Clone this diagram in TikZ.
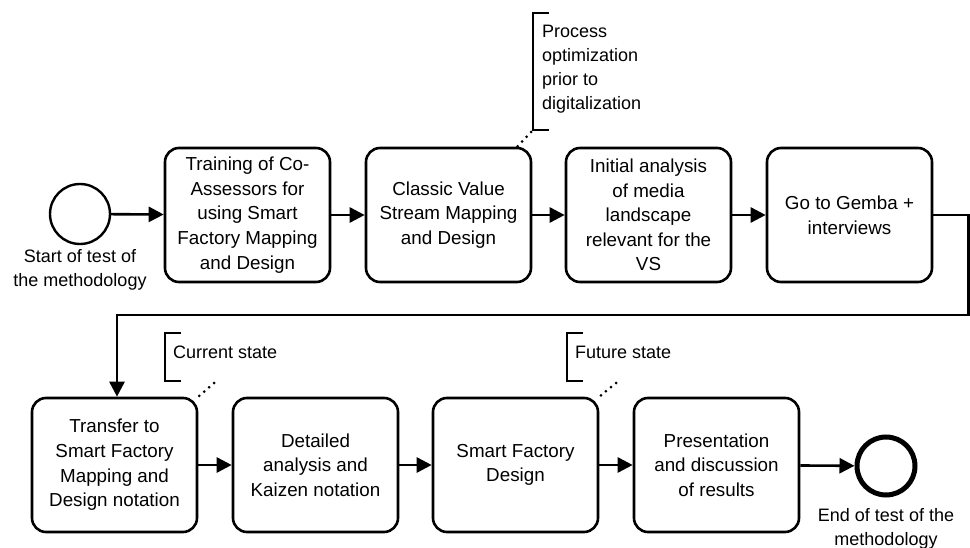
\documentclass[tikz,border=0pt]{standalone}
\usepackage{fontspec}
\setmainfont{Liberation Sans}
\usetikzlibrary{arrows.meta}

\tikzstyle{element}=[rectangle, draw, line width=2.6pt, rounded corners=14pt,
                     minimum width=165pt, minimum height=134pt, align=center,
                     inner sep=2pt, font=\fontsize{18.8}{24.6}\selectfont]
\tikzstyle{event}=[circle, draw, line width=2.4pt, minimum size=60pt, inner sep=0pt]
\tikzstyle{label}=[align=center, font=\fontsize{18}{24}\selectfont, inner sep=0pt]
\tikzstyle{flow}=[-{Triangle[length=15pt, width=15pt]}, line width=2.6pt]
\tikzstyle{assoc}=[line width=3pt, line cap=round, dash pattern=on 0pt off 6.5pt]
\tikzstyle{bracket}=[line width=2.6pt]

\begin{document}
\begin{tikzpicture}[x=1pt, y=-1pt]
  \useasboundingbox (0, 0) rectangle (970, 548);

  %%%%%%%%%%%%%%%%%%%%%%%%%%%%%%
  % nodes
  % upper row
  \node (start) at (80, 214) [event] {};
  \node (start_lab) at (80, 270) [label] {Start of test of\\the methodology};

  \node (train) at (247.5, 215) [element] {Training of Co-\\Assessors for\\using Smart\\Factory Mapping\\and Design};
  \node (vsm) at (448.5, 215) [element] {Classic Value\\Stream Mapping\\and Design};
  \node (media) at (648.5, 215) [element] {Initial analysis\\of media\\landscape\\relevant for the\\VS};
  \node (gemba) at (849.5, 215) [element] {Go to Gemba +\\interviews};

  % lower row
  \node (transfer) at (114.5, 465) [element] {Transfer to\\Smart Factory\\Mapping and\\Design notation};
  \node (kaizen) at (315.5, 465) [element] {Detailed\\analysis and\\Kaizen notation};
  \node (sfd) at (515.5, 465) [element] {Smart Factory\\Design};
  \node (pres) at (716.5, 465) [element] {Presentation\\and discussion\\of results};

  \node (end) at (886, 466) [event, line width=5pt, minimum size=58pt] {};
  \node (end_lab) at (886, 529) [label] {End of test of the\\methodology};

  %%%%%%%%%%%%%%%%%%%%%%%%%%%%%%
  % annotations
  \draw [bracket] (549, 13) -- (533, 13) -- (533, 130) -- (549, 130);
  \coordinate (ann_opt) at (531, 132);
  \node (opt_lab) at (542, 69) [label, anchor=west, align=left] {Process\\optimization\\prior to\\digitalization};

  \draw [bracket] (181, 333) -- (165, 333) -- (165, 381) -- (181, 381);
  \coordinate (ann_cur) at (214, 383);
  \node (cur_lab) at (173, 352) [label, anchor=west] {Current state};

  \draw [bracket] (583, 333) -- (567, 333) -- (567, 381) -- (583, 381);
  \coordinate (ann_fut) at (616, 383);
  \node (fut_lab) at (575, 352) [label, anchor=west] {Future state};

  \draw [assoc] (ann_opt) -- ([xshift=-15pt]vsm.north east);
  \draw [assoc] (ann_cur) -- (transfer.north east);
  \draw [assoc] (ann_fut) -- (sfd.north east);

  %%%%%%%%%%%%%%%%%%%%%%%%%%%%%%
  % links
  \draw [flow] (start) -- (train);
  \draw [flow] (train) -- (vsm);
  \draw [flow] (vsm) -- (media);
  \draw [flow] (media) -- (gemba);
  \draw [flow] (gemba.east) -- ++(35, 0) |- (117, 315) -- (transfer.north -| 117, 0);

  \draw [flow] (transfer) -- (kaizen);
  \draw [flow] (kaizen) -- (sfd);
  \draw [flow] (sfd) -- (pres);
  \draw [flow] (pres) -- (end);

\end{tikzpicture}
\end{document}
